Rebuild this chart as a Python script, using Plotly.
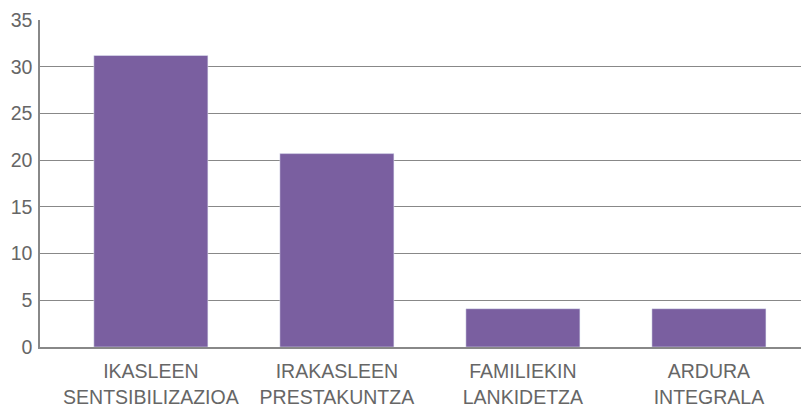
import plotly.graph_objects as go

categories = ["IKASLEEN<br>SENTSIBILIZAZIOA", "IRAKASLEEN<br>PRESTAKUNTZA", "FAMILIEKIN<br>LANKIDETZA", "ARDURA<br>INTEGRALA"]
values = [31.2, 20.7, 4.1, 4.1]
y_ticks = [0, 5, 10, 15, 20, 25, 30, 35]

fig = go.Figure(go.Bar(x=categories, y=values, marker_color="#7A5FA0", width=0.613))

# page body has an 8px default margin; compensate in size and margins
fig.update_layout(
    width=801, height=399,
    margin=dict(l=32, r=0, t=12, b=60),
    plot_bgcolor="white", paper_bgcolor="white",
    font=dict(family="Liberation Sans, Arial, sans-serif", size=19.5, color="#666666"),
    showlegend=False,
)
fig.update_xaxes(range=[-0.596, 3.538], showline=True, linecolor="#888888", linewidth=1.5,
                 showgrid=False, ticks="", ticklabelstandoff=6, automargin=False, fixedrange=True)
fig.update_yaxes(range=[0, 35], tickvals=y_ticks, showline=True, linecolor="#888888", linewidth=1.5,
                 showgrid=True, gridcolor="#888888", gridwidth=1.2, zeroline=False, ticks="",
                 ticklabelstandoff=2)
fig.write_html("out.html")
